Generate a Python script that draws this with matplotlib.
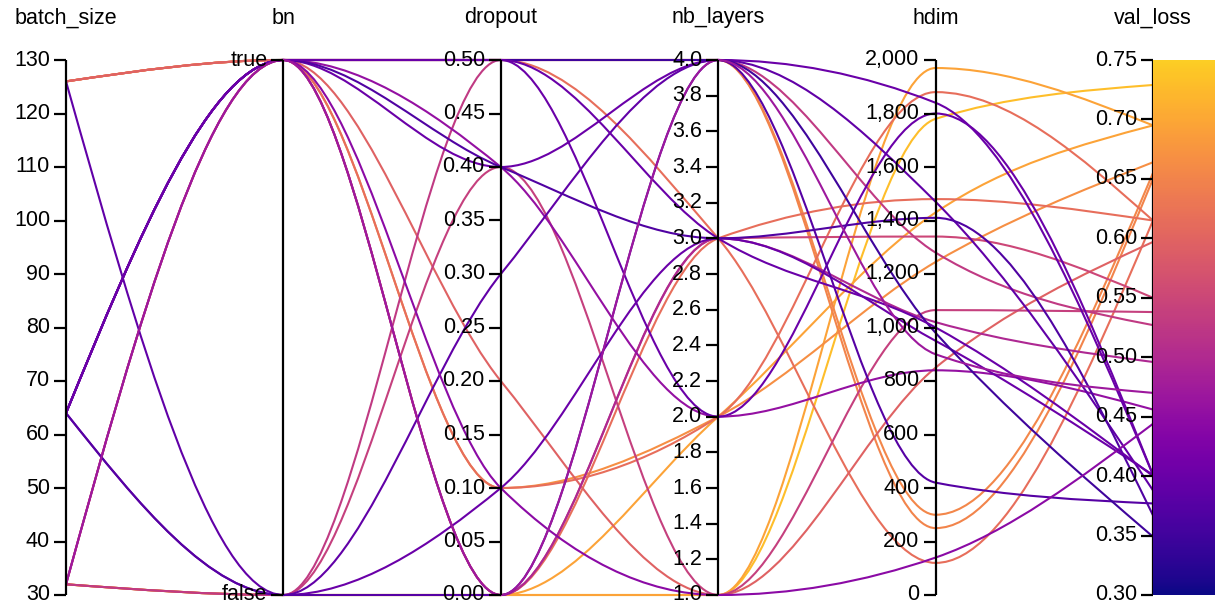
import numpy as np
import matplotlib.pyplot as plt
from matplotlib.path import Path
from matplotlib.patches import PathPatch
from matplotlib import colors

plt.rcParams['font.family'] = ['Liberation Sans', 'DejaVu Sans']

###############################################################################
# Runs
###############################################################################
COLUMNS = ['batch_size', 'bn', 'dropout', 'nb_layers', 'hdim', 'val_loss']
BATCH_SIZE = [32, 32, 32, 126, 126, 126, 126, 126, 32, 126, 32, 32, 32,
              32, 64, 64, 64, 64, 126, 64, 64, 64, 64, 64, 32]
BN = [False, False, False, True, True, True, True, True, True, True, True,
      False, False, True, True, False, True, True, False, False, True, True,
      True, True, True]
DROPOUT = [0.00, 0.00, 0.00, 0.10, 0.50, 0.50, 0.50, 0.10, 0.00, 0.20, 0.00,
           0.40, 0.50, 0.00, 0.40, 0.10, 0.50, 0.40, 0.30, 0.00, 0.40, 0.50,
           0.10, 0.50, 0.00]
NB_LAYERS = [1, 1, 2, 2, 4, 4, 3, 2, 3, 1, 3, 1, 4, 3, 2, 3, 2, 4, 4, 4, 3,
             4, 1, 3, 4]
HDIM = [1780, 1970, 1430, 1245, 300, 250, 120, 1880, 1480, 850, 1340, 1065,
        1280, 1020, 840, 950, 1800, 1840, 1470, 420, 1410, 980, 140, 1000, 900]
VAL_LOSS = [0.729, 0.695, 0.695, 0.664, 0.655, 0.650, 0.615, 0.615, 0.615,
            0.597, 0.550, 0.538, 0.527, 0.496, 0.456, 0.401, 0.401, 0.401,
            0.388, 0.377, 0.367, 0.349, 0.444, 0.400, 0.470]

# Axis domains and tick values
DOMAINS = {
    'batch_size': (30, 130), 'bn': (0, 1), 'dropout': (0.0, 0.5),
    'nb_layers': (1.0, 4.0), 'hdim': (0, 2000), 'val_loss': (0.30, 0.75)
}
TICKS = {
    'batch_size': (np.arange(30, 131, 10), '{:.0f}'),
    'bn': ([0, 1], None),
    'dropout': (np.arange(0, 0.501, 0.05), '{:.2f}'),
    'nb_layers': (np.arange(1.0, 4.01, 0.2), '{:.1f}'),
    'hdim': (np.arange(0, 2001, 200), '{:,.0f}'),
    'val_loss': (np.arange(0.30, 0.751, 0.05), '{:.2f}'),
}
BN_LABELS = {0: 'false', 1: 'true'}

###############################################################################
# Helpers
###############################################################################
def scale(col, v):
    (lo, hi) = DOMAINS[col]
    return (float(v) - lo) / (hi - lo)


def monotoneX(xs, ys):
    # Same tangents as d3.curveMonotoneX, returned as a cubic bezier path
    n = len(xs)
    t = np.zeros(n)
    for i in range(1, n - 1):
        h0, h1 = xs[i] - xs[i - 1], xs[i + 1] - xs[i]
        s0, s1 = (ys[i] - ys[i - 1]) / h0, (ys[i + 1] - ys[i]) / h1
        p = (s0 * h1 + s1 * h0) / (h0 + h1)
        t[i] = (np.sign(s0) + np.sign(s1)) * min(abs(s0), abs(s1), 0.5 * abs(p))
    t[0] = (3 * (ys[1] - ys[0]) / (xs[1] - xs[0]) - t[1]) / 2
    t[-1] = (3 * (ys[-1] - ys[-2]) / (xs[-1] - xs[-2]) - t[-2]) / 2
    verts = [(xs[0], ys[0])]
    codes = [Path.MOVETO]
    for i in range(n - 1):
        dx = (xs[i + 1] - xs[i]) / 3
        verts += [(xs[i] + dx, ys[i] + dx * t[i]),
                  (xs[i + 1] - dx, ys[i + 1] - dx * t[i + 1]),
                  (xs[i + 1], ys[i + 1])]
        codes += [Path.CURVE4] * 3
    return Path(verts, codes)

###############################################################################
# Figure
###############################################################################
(W, H) = (1217, 608)
(X0, X1, YTOP, YBOT) = (66, 1153, 60, 595)
fig = plt.figure(figsize=(W / 100, H / 100), dpi=100)
ax = fig.add_axes([X0 / W, (H - YBOT) / H, (X1 - X0) / W, (YBOT - YTOP) / H])
ax.set_xlim(0, len(COLUMNS) - 1)
ax.set_ylim(0, 1)
ax.axis('off')
PX = (len(COLUMNS) - 1) / (X1 - X0)   # one pixel in x data units
PY = 1 / (YBOT - YTOP)                # one pixel in y data units

cmap = colors.ListedColormap(plt.cm.plasma(np.linspace(0, 0.9, 256)))
norm = colors.Normalize(*DOMAINS['val_loss'])

# Colour strip beside val_loss ------------------------------------------------
cax = fig.add_axes([X1 / W, (H - YBOT) / H, 62 / W, (YBOT - YTOP) / H])
cax.imshow(np.linspace(0, 1, 256)[:, None], cmap=cmap, aspect='auto',
           origin='lower')
cax.axis('off')

# Lines -----------------------------------------------------------------------
data = [BATCH_SIZE, [int(b) for b in BN], DROPOUT, NB_LAYERS, HDIM, VAL_LOSS]
xs = np.arange(len(COLUMNS), dtype=float)
for r in range(len(VAL_LOSS)):
    ys = np.array([scale(c, data[j][r]) for (j, c) in enumerate(COLUMNS)])
    ax.add_patch(PathPatch(
        monotoneX(xs, ys), facecolor='none', edgecolor=cmap(norm(VAL_LOSS[r])),
        lw=1.5, clip_on=False, zorder=2
    ))

# Axes ------------------------------------------------------------------------
for (j, c) in enumerate(COLUMNS):
    ax.plot([j, j], [0, 1], color='black', lw=1.6, clip_on=False, zorder=4,
            solid_capstyle='butt')
    (vals, fmt) = TICKS[c]
    for v in vals:
        y = scale(c, v)
        ax.plot([j - 12 * PX, j], [y, y], color='black', lw=1.6,
                clip_on=False, zorder=4, solid_capstyle='butt')
        label = BN_LABELS[v] if fmt is None else fmt.format(v)
        ax.text(j - 16 * PX, y, label, ha='right', va='center',
                fontsize=15.5, color='black', zorder=5)
    ax.text(j, 1 + 42 * PY, c, ha='center', va='center', fontsize=15.5,
            color='black')

fig.savefig('out.png', dpi=100)
